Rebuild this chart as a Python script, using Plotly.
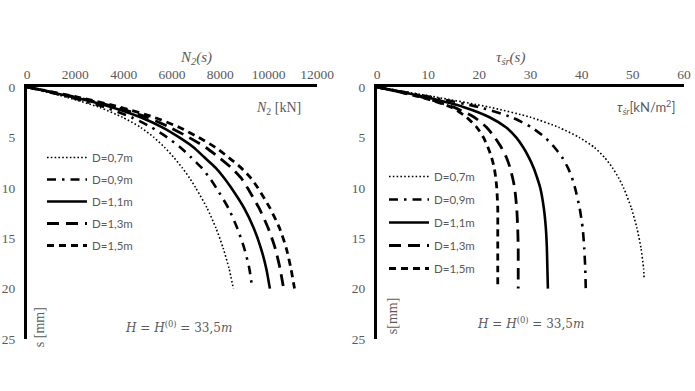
import plotly.graph_objects as go

# ---- data ----
labels = ["D=0,7m", "D=0,9m", "D=1,1m", "D=1,3m", "D=1,5m"]

s_left = [0, 1, 2, 3, 4, 5, 6, 7, 8, 9, 10, 12, 14, 16, 18, 20]
N2_07 = [0, 1620, 2980, 3950, 4700, 5250, 5700, 6080, 6420, 6720, 6980, 7450, 7820, 8120, 8360, 8540]
N2_09 = [0, 1750, 3220, 4320, 5150, 5800, 6350, 6800, 7220, 7550, 7830, 8330, 8700, 8990, 9200, 9320]
N2_11 = [0, 1900, 3500, 4700, 5600, 6300, 6900, 7350, 7800, 8150, 8450, 8980, 9380, 9680, 9900, 10050]
N2_13 = [0, 2000, 3690, 4960, 5910, 6700, 7400, 7950, 8450, 8850, 9120, 9600, 9980, 10270, 10470, 10620]
N2_15 = [0, 2090, 3850, 5250, 6300, 7100, 7800, 8350, 8850, 9250, 9550, 10050, 10450, 10730, 10920, 11070]

s_right = [0, 1, 2, 3, 4, 5, 6, 7, 8, 9, 10, 12, 14, 16, 18, 20]
s_right_07 = [0, 1, 2, 3, 4, 5, 6, 7, 8, 9, 10, 12, 14, 16, 18, 19]
tau_07 = [0, 11.5, 22.0, 30.0, 35.5, 39.5, 42.5, 44.5, 46.0, 47.2, 48.2, 49.7, 50.8, 51.6, 52.1, 52.2]
tau_09 = [0, 10.5, 20.0, 26.3, 30.2, 32.8, 34.7, 36.2, 37.3, 38.1, 38.7, 39.6, 40.2, 40.5, 40.7, 40.8]
tau_11 = [0, 9.5, 17.0, 22.0, 25.2, 27.2, 28.6, 29.7, 30.6, 31.3, 31.9, 32.6, 33.0, 33.2, 33.3, 33.4]
tau_13 = [0, 8.8, 15.0, 19.0, 21.4, 23.0, 24.3, 25.3, 26.0, 26.5, 26.9, 27.3, 27.5, 27.6, 27.6, 27.6]
tau_15 = [0, 8.5, 14.5, 17.5, 19.5, 20.8, 21.7, 22.4, 22.9, 23.2, 23.4, 23.6, 23.6, 23.6, 23.6, 23.6]

x_ticks_left = [0, 2000, 4000, 6000, 8000, 10000, 12000]
x_ticktext_left = ["0", "2000", "4000", "6000", "8000", "10000", "12000"]
x_ticks_right = [0, 10, 20, 30, 40, 50, 60]
y_ticks = [0, 5, 10, 15, 20, 25]

# ---- styles ----
styles = [
    dict(width=1.6, dash="1.6px,2.2px"),
    dict(width=2.6, dash="9px,6px,2.5px,6px"),
    dict(width=2.6, dash="solid"),
    dict(width=2.8, dash="12px,7px"),
    dict(width=2.8, dash="7px,5px"),
]

W, H = 695, 391
ML, MR, MT, MB = 0, 0, 87, 52

def px(xp):
    return xp / W

fig = go.Figure()

left_series = [N2_07, N2_09, N2_11, N2_13, N2_15]
right_series = [tau_07, tau_09, tau_11, tau_13, tau_15]
right_s = [s_right_07, s_right, s_right, s_right, s_right]

for i, (lab, vals) in enumerate(zip(labels, left_series)):
    fig.add_trace(go.Scatter(
        x=vals, y=s_left, mode="lines", name=lab,
        line=dict(color="black", shape="spline", smoothing=0.6, **styles[i]),
        xaxis="x", yaxis="y", legend="legend", legendgroup="L%d" % i,
    ))
for i, (lab, vals) in enumerate(zip(labels, right_series)):
    fig.add_trace(go.Scatter(
        x=vals, y=right_s[i], mode="lines", name=lab,
        line=dict(color="black", shape="spline", smoothing=0.6, **styles[i]),
        xaxis="x2", yaxis="y2", legend="legend2", legendgroup="R%d" % i,
    ))

tickfont = dict(family="Liberation Serif", size=13.5, color="#595959")
common_x = dict(side="top", showline=True, linewidth=3, linecolor="black",
                showgrid=False, zeroline=False, ticks="", tickfont=tickfont,
                automargin=False)
common_y = dict(range=[25, 0], tickvals=y_ticks, showline=True, linewidth=3,
                linecolor="black", showgrid=False, zeroline=False, ticks="",
                tickfont=tickfont, ticklabelstandoff=6, automargin=False)

fig.update_layout(
    width=W, height=H, autosize=False,
    margin=dict(l=ML, r=MR, t=MT, b=MB, autoexpand=False),
    paper_bgcolor="white", plot_bgcolor="white",
    xaxis=dict(domain=[px(27), px(317)], range=[0, 12000], tickvals=x_ticks_left,
               ticktext=x_ticktext_left, anchor="y", **common_x),
    yaxis=dict(domain=[0, 1], anchor="x", **common_y),
    xaxis2=dict(domain=[px(377), px(684)], range=[0, 60], tickvals=x_ticks_right,
                anchor="y2", **common_x),
    yaxis2=dict(domain=[0, 1], anchor="x2", **common_y),
    legend=dict(x=px(42), y=(339 - 143) / 252, xanchor="left", yanchor="top",
                bgcolor="rgba(0,0,0,0)", tracegroupgap=3, itemwidth=40,
                font=dict(family="Lato", size=11.5, color="#595959")),
    legend2=dict(x=px(384), y=(339 - 162) / 252, xanchor="left", yanchor="top",
                 bgcolor="rgba(0,0,0,0)", tracegroupgap=4, itemwidth=40,
                 font=dict(family="Lato", size=11.5, color="#595959")),
    showlegend=True,
)

title_font = dict(family="Liberation Serif", size=15, color="#595959")
ann_font = dict(family="DejaVu Serif", size=12, color="#595959")
fig.add_annotation(text="<i>N<sub>2</sub>(s)</i>", x=px(178), y=(339 - 47) / 252,
                   xref="paper", yref="paper", showarrow=False, font=title_font)
fig.add_annotation(text="<i>τ<sub>śr</sub>(s)</i>", x=px(527), y=(339 - 47) / 252,
                   xref="paper", yref="paper", showarrow=False, font=title_font)
fig.add_annotation(text="<i>N</i><sub>2</sub> [kN]", x=10400, y=2.1, xref="x", yref="y",
                   showarrow=False, font=dict(family="Liberation Serif", size=14, color="#595959"))
fig.add_annotation(text="<i>τ<sub>śr</sub></i>[kN/m<sup>2</sup>]", x=52.6, y=2.0, xref="x2", yref="y2",
                   showarrow=False, font=dict(family="Lato", size=13, color="#595959"))
fig.add_annotation(text="s [mm]", x=550, y=23.8, xref="x", yref="y", textangle=-90,
                   showarrow=False, font=dict(family="Liberation Serif", size=14, color="#595959"))
fig.add_annotation(text="s[mm]", x=3.0, y=22.7, xref="x2", yref="y2", textangle=-90,
                   showarrow=False, font=dict(family="Liberation Serif", size=14, color="#595959"))
fig.add_annotation(text="<i>H</i> = <i>H</i><sup>(0)</sup> = 33,5<i>m</i>", x=6270, y=23.8,
                   xref="x", yref="y", showarrow=False, font=ann_font)
fig.add_annotation(text="<i>H</i> = <i>H</i><sup>(0)</sup> = 33,5<i>m</i>", x=30, y=23.4,
                   xref="x2", yref="y2", showarrow=False, font=ann_font)

fig.write_html(
    "out.html",
    config={"responsive": False, "displayModeBar": False},
    post_script="document.body.style.margin='0';document.body.style.overflow='hidden';",
)
